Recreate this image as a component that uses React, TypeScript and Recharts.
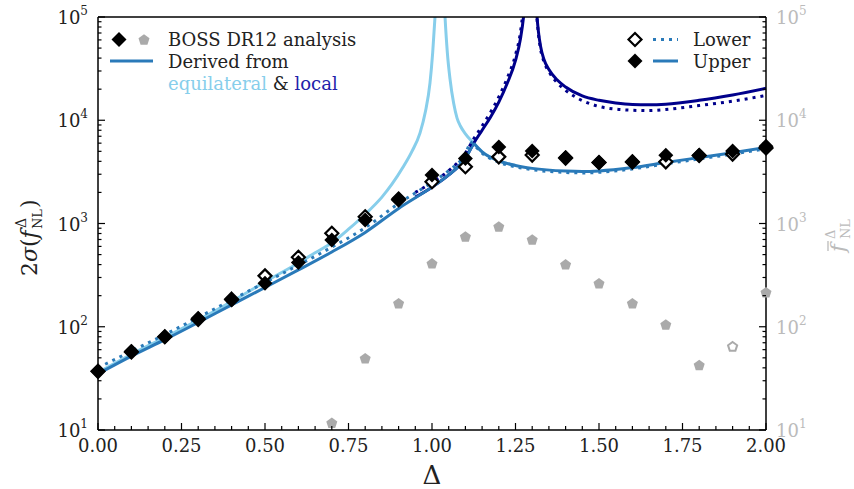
import React from 'react';
import { ComposedChart, Line, Scatter, XAxis, YAxis } from 'recharts';

// BOSS DR12 points, Delta = 0.0 ... 2.0
const bossDeltas = [0, 0.1, 0.2, 0.3, 0.4, 0.5, 0.6, 0.7, 0.8, 0.9, 1.0, 1.1, 1.2, 1.3, 1.4, 1.5, 1.6, 1.7, 1.8, 1.9, 2.0];
const bossUpper = [37, 58, 80, 121, 182, 264, 418, 693, 1081, 1750, 2943, 4266, 5520, 5050, 4355, 3900, 3955, 4590, 4590, 5050, 5600];
const bossLower = [37, 57, 80, 118, 185, 311, 471, 803, 1163, 1700, 2535, 3540, 4420, 4600, 4300, 3900, 3950, 3955, 4550, 4700, 5400];

// f_NL central values (grey pentagons), open marker = negative value
const fbarDeltas = [0.7, 0.8, 0.9, 1.0, 1.1, 1.2, 1.3, 1.4, 1.5, 1.6, 1.7, 1.8, 2.0];
const fbarValues = [11.6, 49, 167, 406, 741, 925, 693, 397, 260, 167, 104, 42, 213];
const fbarNegDeltas = [1.9];
const fbarNegValues = [64];

// derived curves
const skyLeftX = [0, 0.1, 0.2, 0.3, 0.4, 0.5, 0.6, 0.65, 0.7, 0.75, 0.8, 0.85, 0.88, 0.913, 0.94, 0.964, 0.98, 0.994, 1.002, 1.009, 1.016];
const skyLeftY = [36, 54, 79, 116, 175, 272, 415, 520, 650, 880, 1230, 1800, 2400, 3500, 5000, 7500, 12000, 23000, 45000, 100000, 250000];
const skyRightX = [1.032, 1.039, 1.046, 1.054, 1.065, 1.075, 1.085, 1.1, 1.125, 1.15, 1.2, 1.25];
const skyRightY = [300000, 100000, 45000, 25000, 14500, 10500, 8800, 7400, 6000, 4950, 4050, 3650];

const navyLeftX = [0.95, 1.0, 1.05, 1.1, 1.125, 1.15, 1.175, 1.2, 1.225, 1.25, 1.265, 1.274, 1.282];
const navyLeftY = [1800, 2250, 2950, 4300, 6000, 8000, 10700, 15000, 22700, 38000, 62000, 100000, 200000];
const navyRightX = [1.305, 1.312, 1.318, 1.325, 1.335, 1.35, 1.375, 1.4, 1.45, 1.5, 1.55, 1.6, 1.65, 1.7, 1.8, 1.9, 2.0];
const navyRightY = [400000, 130000, 75000, 52000, 39000, 31000, 24500, 21000, 17200, 15600, 14700, 14200, 14100, 14300, 15600, 17600, 20400];
const navyDotLeftX = [0.95, 1.0, 1.05, 1.1, 1.125, 1.15, 1.175, 1.2, 1.225, 1.25, 1.265, 1.273, 1.28];
const navyDotLeftY = [2000, 2500, 3250, 4800, 6600, 8800, 11900, 16800, 25500, 43000, 72000, 120000, 250000];
const navyDotRightY = [400000, 125000, 72000, 49000, 37000, 29500, 23000, 19500, 15500, 13600, 12800, 12500, 12400, 12700, 13900, 15300, 17400];

const midLeftX = [0, 0.1, 0.2, 0.3, 0.4, 0.5, 0.6, 0.7, 0.8, 0.9, 1.0, 1.05, 1.1, 1.125];
const midLeftY = [35, 52, 75, 110, 163, 240, 355, 530, 820, 1400, 2250, 2950, 4300, 6000];
const midRightX = [1.125, 1.15, 1.2, 1.25, 1.3, 1.4, 1.45, 1.5, 1.6, 1.7, 1.8, 1.9, 2.0];
const midRightY = [6000, 4950, 4050, 3650, 3420, 3220, 3190, 3230, 3480, 3900, 4350, 4850, 5450];
const midDotLeftX = [0, 0.1, 0.2, 0.3, 0.4, 0.5, 0.6, 0.7, 0.8, 0.9, 1.0, 1.05, 1.1, 1.115];
const midDotLeftY = [40, 58, 84, 123, 182, 268, 395, 590, 910, 1560, 2500, 3250, 4800, 6200];
const midDotRightX = [1.115, 1.125, 1.15, 1.2, 1.25, 1.3, 1.4, 1.45, 1.5, 1.6, 1.7, 1.8, 1.9, 2.0];
const midDotRightY = [6200, 5800, 4800, 3930, 3540, 3320, 3120, 3090, 3130, 3380, 3780, 4220, 4700, 5290];

// ticks
const xTicks = [0, 0.05, 0.1, 0.15, 0.2, 0.25, 0.3, 0.35, 0.4, 0.45, 0.5, 0.55, 0.6, 0.65, 0.7, 0.75, 0.8, 0.85, 0.9, 0.95,
  1.0, 1.05, 1.1, 1.15, 1.2, 1.25, 1.3, 1.35, 1.4, 1.45, 1.5, 1.55, 1.6, 1.65, 1.7, 1.75, 1.8, 1.85, 1.9, 1.95, 2.0];
const yTicks = [10, 20, 30, 40, 50, 60, 70, 80, 90, 100, 200, 300, 400, 500, 600, 700, 800, 900,
  1000, 2000, 3000, 4000, 5000, 6000, 7000, 8000, 9000, 10000, 20000, 30000, 40000, 50000, 60000, 70000, 80000, 90000, 100000];

const SKY = '#87ceeb';
const NAVY = '#00008b';
const MID = '#2a7ab9';
const GREY = '#aaaaaa';
const FONT = 'DejaVu Serif';

const pts = (xs: number[], ys: number[]) => xs.map((x, i) => ({ x, v: ys[i] }));

const isMajorX = (v: number) => Math.abs(v * 4 - Math.round(v * 4)) < 1e-6;
const decade = (v: number) => {
  const l = Math.log10(v);
  return Math.abs(l - Math.round(l)) < 1e-6 ? Math.round(l) : null;
};

const BottomTick = (p: any) => {
  const v = p.payload.value;
  const major = isMajorX(v);
  return (
    <g>
      <line x1={p.x} x2={p.x} y1={p.y} y2={p.y - (major ? 7 : 4)} stroke="#000" strokeWidth={1.2} />
      {major && (
        <text x={p.x} y={p.y + 22} textAnchor="middle" fontFamily={FONT} fontSize={18} fill="#222">
          {v.toFixed(2)}
        </text>
      )}
    </g>
  );
};

const TopTick = (p: any) => {
  const major = isMajorX(p.payload.value);
  return <line x1={p.x} x2={p.x} y1={p.y} y2={p.y + (major ? 7 : 4)} stroke="#000" strokeWidth={1.2} />;
};

const LeftTick = (p: any) => {
  const e = decade(p.payload.value);
  return (
    <g>
      <line x1={p.x} x2={p.x + (e !== null ? 7 : 3.5)} y1={p.y} y2={p.y} stroke="#000" strokeWidth={1.2} />
      {e !== null && (
        <text x={p.x - 10} y={p.y + 7} textAnchor="end" fontFamily={FONT} fontSize={18} fill="#222">
          10<tspan dy={-9} fontSize={12}>{e}</tspan>
        </text>
      )}
    </g>
  );
};

const RightTick = (p: any) => {
  const e = decade(p.payload.value);
  return (
    <g>
      <line x1={p.x} x2={p.x - (e !== null ? 7 : 3.5)} y1={p.y} y2={p.y} stroke="#000" strokeWidth={1.2} />
      {e !== null && (
        <text x={p.x + 10} y={p.y + 7} textAnchor="start" fontFamily={FONT} fontSize={18} fill="#bbbbbb">
          10<tspan dy={-9} fontSize={12}>{e}</tspan>
        </text>
      )}
    </g>
  );
};

const diamondPath = (cx: number, cy: number, r: number) =>
  `M${cx},${cy - r}L${cx + r},${cy}L${cx},${cy + r}L${cx - r},${cy}Z`;

const pentagonPath = (cx: number, cy: number, r: number) => {
  let d = '';
  for (let k = 0; k < 5; k++) {
    const a = ((-90 + 72 * k) * Math.PI) / 180;
    d += `${k === 0 ? 'M' : 'L'}${cx + r * Math.cos(a)},${cy + r * Math.sin(a)}`;
  }
  return d + 'Z';
};

const FilledDiamond = (p: any) => <path d={diamondPath(p.cx, p.cy, 7.5)} fill="#000" />;
const OpenDiamond = (p: any) => (
  <path d={diamondPath(p.cx, p.cy, 6.5)} fill="#fff" stroke="#000" strokeWidth={2.2} />
);
const FilledPent = (p: any) => <path d={pentagonPath(p.cx, p.cy, 5.8)} fill={GREY} />;
const OpenPent = (p: any) => (
  <path d={pentagonPath(p.cx, p.cy, 4.8)} fill="#fff" stroke={GREY} strokeWidth={2} />
);

const curve = (key: string, data: any[], color: string, dotted = false) => (
  <Line
    key={key}
    data={data}
    dataKey="v"
    yAxisId="lines"
    type="monotone"
    stroke={color}
    strokeWidth={3}
    strokeDasharray={dotted ? '3 5' : undefined}
    dot={false}
    activeDot={false}
    isAnimationActive={false}
  />
);

const Overlay = () => (
  <svg width={854} height={489} style={{ position: 'absolute', left: 0, top: 0, pointerEvents: 'none' }}>
    {/* legend, upper left */}
    <path d={diamondPath(119, 39.5, 7.5)} fill="#000" />
    <path d={pentagonPath(144, 40, 5.8)} fill={GREY} />
    <text x={168} y={46} fontFamily={FONT} fontSize={18} fill="#222">BOSS DR12 analysis</text>
    <line x1={110} x2={153} y1={61} y2={61} stroke={MID} strokeWidth={3} />
    <text x={168} y={68} fontFamily={FONT} fontSize={18} fill="#222">Derived from</text>
    <text x={168} y={90} fontFamily={FONT} fontSize={18} fill="#222">
      <tspan fill={SKY}>equilateral</tspan> &amp; <tspan fill="#2222aa">local</tspan>
    </text>
    {/* legend, upper right */}
    <path d={diamondPath(635, 39.5, 6.5)} fill="#fff" stroke="#000" strokeWidth={2.2} />
    <line x1={653} x2={678} y1={39.5} y2={39.5} stroke={MID} strokeWidth={3} strokeDasharray="3 5" />
    <text x={693} y={46} fontFamily={FONT} fontSize={18} fill="#222">Lower</text>
    <path d={diamondPath(635, 61, 7.5)} fill="#000" />
    <line x1={653} x2={678} y1={61} y2={61} stroke={MID} strokeWidth={3} />
    <text x={693} y={68} fontFamily={FONT} fontSize={18} fill="#222">Upper</text>
    {/* axis titles */}
    <text x={432} y={484} textAnchor="middle" fontFamily={FONT} fontSize={26} fill="#222">Δ</text>
    <g transform="translate(37,232) rotate(-90)" fontFamily={FONT} fill="#222">
      <text x={-44} y={0} fontSize={22}>2<tspan fontStyle="italic">σ</tspan>(<tspan fontStyle="italic">f</tspan></text>
      <text x={4} y={-11} fontSize={14}>Δ</text>
      <text x={3} y={5} fontSize={13}>NL</text>
      <text x={24} y={0} fontSize={22}>)</text>
    </g>
    <g transform="translate(845,252) rotate(-90)" fontFamily={FONT} fill="#bbbbbb">
      <text x={0} y={0} fontSize={21} fontStyle="italic">f</text>
      <line x1={1} x2={11} y1={-17} y2={-17} stroke="#bbbbbb" strokeWidth={1.3} />
      <text x={13} y={-10} fontSize={13}>Δ</text>
      <text x={13} y={5} fontSize={13}>NL</text>
    </g>
  </svg>
);

export default function App() {
  return (
    <div style={{ position: 'absolute', left: 0, top: 0, width: 854, height: 489, background: '#fff' }}>
      <ComposedChart width={854} height={489} margin={{ top: 0, right: 0, bottom: 0, left: 0 }}>
        <XAxis
          dataKey="x"
          type="number"
          domain={[0, 2]}
          ticks={xTicks}
          interval={0}
          height={59}
          tickSize={0}
          tickMargin={0}
          tickLine={false}
          tick={<BottomTick />}
          axisLine={{ stroke: '#000', strokeWidth: 1.5 }}
        />
        <XAxis
          xAxisId="top"
          orientation="top"
          type="number"
          domain={[0, 2]}
          allowDataOverflow
          ticks={xTicks}
          interval={0}
          height={17}
          tickSize={0}
          tickMargin={0}
          tickLine={false}
          tick={<TopTick />}
          axisLine={{ stroke: '#000', strokeWidth: 1.5 }}
        />
        <YAxis
          dataKey="v"
          type="number"
          scale="log"
          domain={[10, 100000]}
          ticks={yTicks}
          interval={0}
          width={98}
          tickSize={0}
          tickMargin={0}
          tickLine={false}
          tick={<LeftTick />}
          axisLine={{ stroke: '#000', strokeWidth: 1.5 }}
        />
        <YAxis
          yAxisId="right"
          orientation="right"
          type="number"
          scale="log"
          domain={[10, 100000]}
          allowDataOverflow
          ticks={yTicks}
          interval={0}
          width={88}
          tickSize={0}
          tickMargin={0}
          tickLine={false}
          tick={<RightTick />}
          axisLine={{ stroke: '#000', strokeWidth: 1.5 }}
        />
        <YAxis yAxisId="lines" type="number" scale="log" domain={[10, 100000]} allowDataOverflow hide />

        {curve('skyL', pts(skyLeftX, skyLeftY), SKY)}
        {curve('skyR', pts(skyRightX, skyRightY), SKY)}
        {curve('navyL', pts(navyLeftX, navyLeftY), NAVY)}
        {curve('navyR', pts(navyRightX, navyRightY), NAVY)}
        {curve('midL', pts(midLeftX, midLeftY), MID)}
        {curve('midR', pts(midRightX, midRightY), MID)}
        {curve('midDL', pts(midDotLeftX, midDotLeftY), MID, true)}
        {curve('midDR', pts(midDotRightX, midDotRightY), MID, true)}
        {curve('navyDL', pts(navyDotLeftX, navyDotLeftY), NAVY, true)}
        {curve('navyDR', pts(navyRightX, navyDotRightY), NAVY, true)}

        <Scatter data={pts(fbarDeltas, fbarValues)} dataKey="v" shape={<FilledPent />} isAnimationActive={false} />
        <Scatter data={pts(fbarNegDeltas, fbarNegValues)} dataKey="v" shape={<OpenPent />} isAnimationActive={false} />
        <Scatter data={pts(bossDeltas, bossLower)} dataKey="v" shape={<OpenDiamond />} isAnimationActive={false} />
        <Scatter data={pts(bossDeltas, bossUpper)} dataKey="v" shape={<FilledDiamond />} isAnimationActive={false} />
      </ComposedChart>
      <Overlay />
    </div>
  );
}
